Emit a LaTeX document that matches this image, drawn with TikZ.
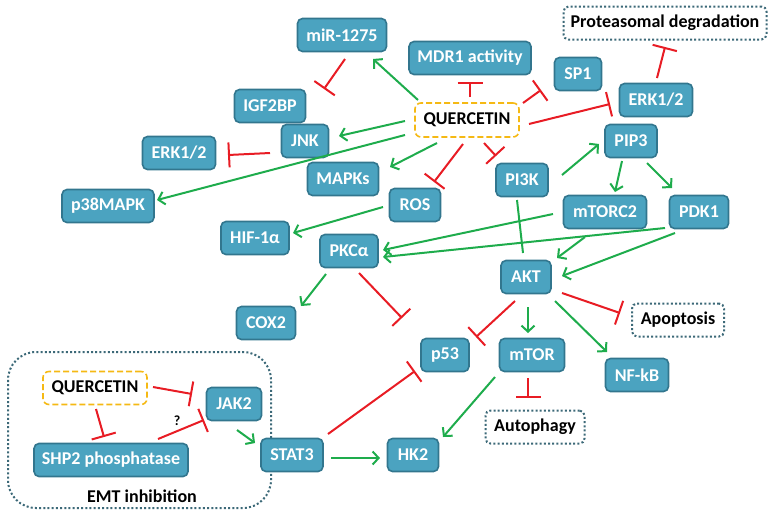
\documentclass[tikz,border=0pt]{standalone}
\usepackage{fontspec}
\setmainfont{Carlito}
\usetikzlibrary{arrows.meta,calc}
\definecolor{boxfill}{RGB}{75,163,192}
\definecolor{boxline}{RGB}{50,118,142}
\definecolor{actg}{RGB}{30,172,76}
\definecolor{inhr}{RGB}{232,28,36}
\definecolor{qyel}{RGB}{245,185,20}
\definecolor{dotc}{RGB}{60,105,120}
\begin{document}
\begin{tikzpicture}[x=1pt,y=-1pt,
  lbl/.style={font=\fontsize{18}{21}\selectfont\bfseries},
  mol/.style={lbl,draw=boxline,fill=boxfill,line width=1.6pt,rounded corners=5pt,text=white,inner sep=0pt,minimum height=33pt},
  outc/.style={lbl,draw=dotc,line width=2pt,dash pattern=on 2pt off 2.2pt,rounded corners=5pt,fill=white,text=black,inner sep=0pt,minimum height=33pt},
  querc/.style={lbl,draw=qyel,line width=1.6pt,dash pattern=on 6pt off 3pt,rounded corners=6pt,fill=white,text=black,inner sep=0pt,minimum height=34pt},
  act/.style={draw=actg,line width=2pt,-{Straight Barb[length=6pt,width=13pt]}},
  inh/.style={draw=inhr,line width=2pt,-{Bar[width=25pt]}},
  plainl/.style={draw=actg,line width=2pt}]
\useasboundingbox (0,0) rectangle (773,515);

% EMT region
\draw[draw=dotc,line width=2pt,dash pattern=on 2pt off 2.2pt,rounded corners=28pt] (8,352) rectangle (271,508);
\node[lbl] (emt) at (142,496) {EMT inhibition};

% nodes
\node[mol,minimum width=89pt] (mir) at (342,35) {miR-1275};
\node[mol,minimum width=71pt] (igf) at (270,106) {IGF2BP};
\node[mol,minimum width=47pt] (jnk) at (305,141) {JNK};
\node[mol,minimum width=73pt] (erkL) at (179,153) {ERK1/2};
\node[mol,minimum width=71pt] (mapks) at (343,179) {MAPKs};
\node[mol,minimum width=92pt] (p38) at (108,206) {p38MAPK};
\node[mol,minimum width=68pt] (hif) at (255,238) {HIF-1α};
\node[mol,minimum width=58pt] (pkc) at (349,251) {PKCα};
\node[outc,minimum width=203pt] (prot) at (665,23) {Proteasomal degradation};
\node[mol,minimum width=122pt] (mdr) at (470,58) {MDR1 activity};
\node[mol,minimum width=47pt] (sp1) at (578,74) {SP1};
\node[mol,minimum width=73pt] (erkR) at (656,100) {ERK1/2};
\node[querc,minimum width=104pt] (q) at (467,120) {QUERCETIN};
\node[mol,minimum width=52pt] (pip3) at (631,141) {PIP3};
\node[mol,minimum width=52pt] (pi3k) at (522,180) {PI3K};
\node[mol,minimum width=51pt] (ros) at (415,205) {ROS};
\node[mol,minimum width=83pt] (mtorc2) at (605,212) {mTORC2};
\node[mol,minimum width=59pt] (pdk1) at (699,212) {PDK1};
\node[mol,minimum width=50pt] (akt) at (526,277) {AKT};
\node[outc,minimum width=92pt] (apop) at (678,320) {Apoptosis};
\node[mol,minimum width=48pt] (p53) at (445,355) {p53};
\node[mol,minimum width=65pt] (mtor) at (532,355) {mTOR};
\node[mol,minimum width=63pt] (nfkb) at (637,375) {NF-kB};
\node[outc,minimum width=99pt] (auto) at (535,427) {Autophagy};
\node[mol,minimum width=51pt] (hk2) at (413,455) {HK2};
\node[mol,minimum width=59pt] (cox2) at (266,323) {COX2};
\node[querc,minimum width=104pt,minimum height=33pt] (q2) at (95,388) {QUERCETIN};
\node[mol,minimum width=55pt] (jak2) at (234,404) {JAK2};
\node[mol,minimum width=154pt] (shp2) at (111,460) {SHP2 phosphatase};
\node[mol,minimum width=62pt] (stat3) at (292,455) {STAT3};
\node[lbl,font=\fontsize{14}{16}\selectfont\bfseries] (qm) at (177,421) {?};
\coordinate (pkcend) at (402,318);

% connectors from QUERCETIN
\draw[act] ($(q)+(-49,-20)$) -- ($(mir)+(31,24)$);
\draw[inh] ($(q)+(3,-23)$) -- ($(mdr)+(0,24)$);
\draw[inh] ($(q)+(56,-17)$) -- ($(sp1)+(-37,16)$);
\draw[inh] ($(q)+(62,4)$) -- ($(erkR)+(-46,4)$);
\draw[act] ($(q)+(-62,1)$) -- ($(jnk)+(34,-5)$);
\draw[act] ($(q)+(-62,15)$) -- ($(p38)+(49,-6)$);
\draw[act] ($(q)+(-30,23)$) -- ($(mapks)+(47,-12)$);
\draw[inh] ($(q)+(-4,24)$) -- ($(ros)+(19,-23)$);
\draw[inh] ($(q)+(17,23)$) -- ($(pi3k)+(-26,-24)$);

% other connectors
\draw[inh] ($(mir)+(3,24)$) -- ($(igf)+(54,-17)$);
\draw[inh] ($(jnk)+(-35,12)$) -- ($(erkL)+(49,2)$);
\draw[act] ($(ros)+(-32,2)$) -- ($(hif)+(38,-5)$);
\draw[inh] ($(erkR)+(1,-22)$) -- ($(prot)+(0,24)$);
\draw[act] ($(pi3k)+(40,-5)$) -- ($(pip3)+(-32,3)$);
\draw[act] ($(pip3)+(-9,20)$) -- ($(mtorc2)+(10,-20)$);
\draw[act] ($(pip3)+(16,22)$) -- ($(pdk1)+(-27,-24)$);
\draw[plainl] ($(pi3k)+(-5,20)$) -- ($(akt)+(-3,-24)$);
\draw[act] ($(mtorc2)+(-52,2)$) -- ($(pkc)+(34,-1)$);
\draw[act] ($(pdk1)+(-34,16)$) -- ($(pkc)+(34,6)$);
\draw[act] ($(mtorc2)+(-20,25)$) -- ($(akt)+(31,-19)$);
\draw[act] ($(pdk1)+(-24,21)$) -- ($(akt)+(36,-1)$);
\draw[inh] ($(akt)+(-11,24)$) -- ($(p53)+(31,-18)$);
\draw[act] ($(akt)+(2,30)$) -- ($(mtor)+(-4,-22)$);
\draw[act] ($(akt)+(29,24)$) -- ($(nfkb)+(-30,-23)$);
\draw[inh] ($(akt)+(36,16)$) -- ($(apop)+(-58,-7)$);
\draw[inh] ($(mtor)+(-4,23)$) -- ($(auto)+(-7,-29)$);
\draw[act] ($(mtor)+(-37,22)$) -- ($(hk2)+(30,-18)$);
\draw[act] ($(pkc)+(-23,23)$) -- ($(cox2)+(35,-17)$);
\draw[inh] ($(pkc)+(10,22)$) -- (pkcend);
\draw[inh] ($(stat3)+(36,-21)$) -- ($(p53)+(-30,16)$);
\draw[act] ($(stat3)+(39,3)$) -- ($(hk2)+(-33,3)$);
\draw[act] ($(jak2)+(3,26)$) -- ($(stat3)+(-37,-12)$);
\draw[inh] ($(q2)+(58,-1)$) -- ($(jak2)+(-42,-10)$);
\draw[inh] ($(q2)+(1,21)$) -- ($(shp2)+(-7,-23)$);
\draw[inh] ($(shp2)+(47,-21)$) -- ($(jak2)+(-30,16)$);
\end{tikzpicture}
\end{document}
